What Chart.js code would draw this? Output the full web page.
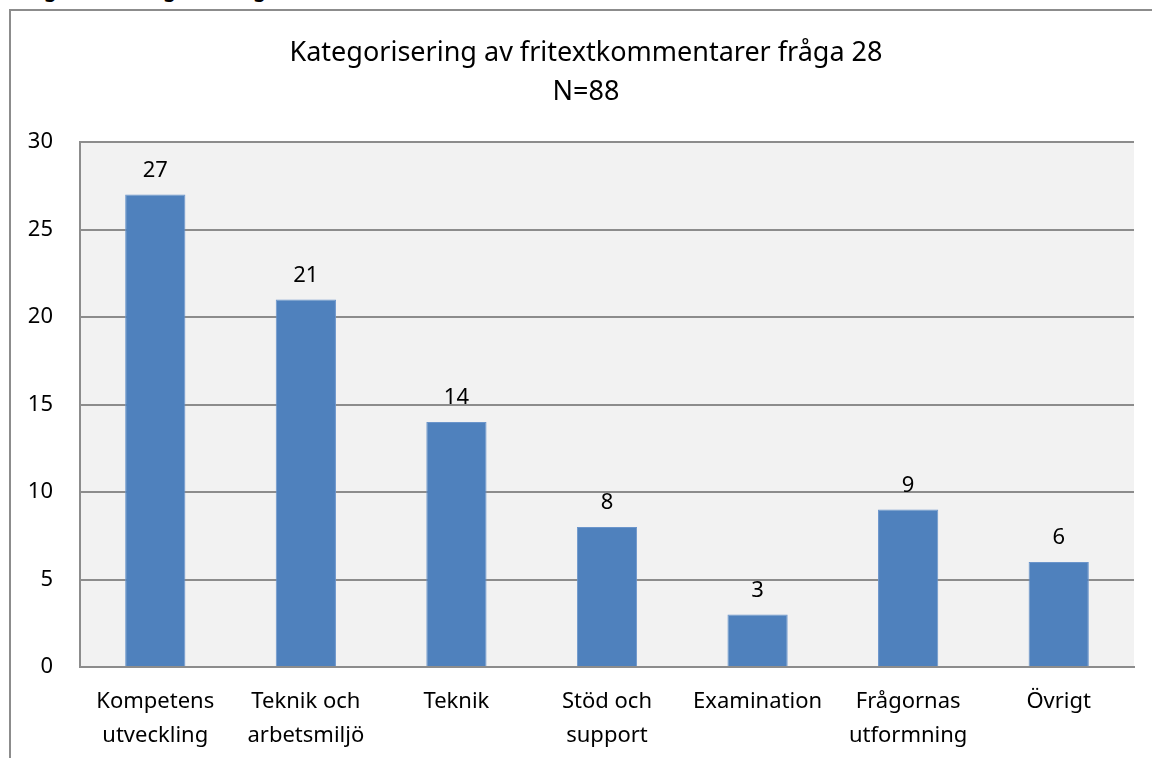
<!DOCTYPE html>
<html>
<head>
<meta charset="utf-8">
<script src="https://cdn.jsdelivr.net/npm/chart.js@4"></script>
<style>
  body { margin: 0; background: #fff; overflow: hidden; }
  #frame {
    position: absolute; left: 9px; top: 9px; width: 1300px; height: 900px;
    border: 2px solid #8c8c8c; box-sizing: border-box;
  }
  #caption {
    position: absolute; left: 27px; top: -24px; line-height: 20px;
    font: bold 20px "Noto Sans", sans-serif; white-space: nowrap;
  }
  #chart { position: absolute; left: 0; top: 0; }
</style>
</head>
<body>
<div id="caption">Figur 28. Kategorisering av fritextkommentarer</div>
<div id="frame"></div>
<canvas id="chart" width="1152" height="758"></canvas>
<script>
// Chart data
const categories = [
  ['Kompetens', 'utveckling'],
  ['Teknik och', 'arbetsmiljö'],
  'Teknik',
  ['Stöd och', 'support'],
  'Examination',
  ['Frågornas', 'utformning'],
  'Övrigt'
];
const counts = [27, 21, 14, 8, 3, 9, 6];
const titleLines = ['Kategorisering av fritextkommentarer fråga 28', 'N=88'];
const yTicks = [0, 5, 10, 15, 20, 25, 30];

const FONT = '"Noto Sans", sans-serif';

// grey plot background
const plotBackground = {
  id: 'plotBackground',
  beforeDraw(chart) {
    const { ctx, chartArea } = chart;
    ctx.save();
    ctx.fillStyle = '#f2f2f2';
    ctx.fillRect(chartArea.left, chartArea.top, chartArea.right - chartArea.left, chartArea.bottom - chartArea.top);
    ctx.restore();
  }
};

// value labels above bars
const valueLabels = {
  id: 'valueLabels',
  afterDatasetsDraw(chart) {
    const { ctx } = chart;
    const meta = chart.getDatasetMeta(0);
    ctx.save();
    ctx.font = '22px ' + FONT;
    ctx.fillStyle = '#000';
    ctx.textAlign = 'center';
    ctx.textBaseline = 'alphabetic';
    meta.data.forEach((bar, i) => {
      ctx.fillText(counts[i], bar.x, bar.y - 18);
    });
    ctx.restore();
  }
};

// chart title, centred on the whole chart frame
const frameTitle = {
  id: 'frameTitle',
  afterDraw(chart) {
    const { ctx } = chart;
    ctx.save();
    ctx.font = '27px ' + FONT;
    ctx.fillStyle = '#000';
    ctx.textAlign = 'center';
    ctx.textBaseline = 'middle';
    titleLines.forEach((line, i) => ctx.fillText(line, 586, 53 + i * 39));
    ctx.restore();
  }
};

new Chart(document.getElementById('chart'), {
  type: 'bar',
  data: {
    labels: categories,
    datasets: [{
      data: counts,
      backgroundColor: '#4f81bd',
      borderColor: '#6b95cb',
      borderWidth: 1,
      barPercentage: 0.4,
      categoryPercentage: 1
    }]
  },
  options: {
    responsive: false,
    animation: false,
    layout: { padding: { left: 0, right: 18, top: 142, bottom: 0 } },
    plugins: {
      legend: { display: false },
      tooltip: { enabled: false },
      title: { display: false }
    },
    scales: {
      x: {
        grid: { display: false, drawTicks: false },
        border: { display: true, color: '#8c8c8c', width: 2 },
        ticks: { color: '#000', font: { family: FONT, size: 22, lineHeight: 1.55 }, padding: 18, maxRotation: 0 },
        afterFit(scale) { scale.height = 91; }
      },
      y: {
        min: 0,
        max: 30,
        grid: { color: '#8c8c8c', lineWidth: 2, drawTicks: false },
        border: { display: true, color: '#8c8c8c', width: 2 },
        afterBuildTicks(scale) { scale.ticks = yTicks.map(v => ({ value: v })); },
        ticks: { color: '#000', font: { family: FONT, size: 22 }, padding: 27 },
        afterFit(scale) { scale.width = 80; }
      }
    }
  },
  plugins: [plotBackground, valueLabels, frameTitle]
});
</script>
</body>
</html>
